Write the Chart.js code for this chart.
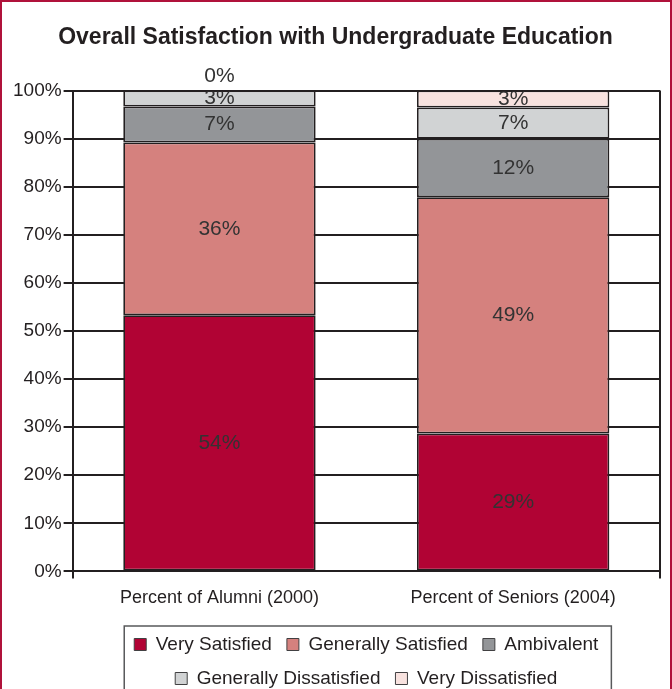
<!DOCTYPE html>
<html><head><meta charset="utf-8">
<script src="https://cdn.jsdelivr.net/npm/chart.js@4.4.0/dist/chart.umd.min.js"></script>
<style>
html,body{margin:0;padding:0;background:#fff;overflow:hidden;}
#wrap{position:relative;width:672px;height:689px;overflow:hidden;background:#fff;}
#frame{position:absolute;left:0;top:0;width:672px;height:740px;box-sizing:border-box;border:2px solid #b0123b;pointer-events:none;}
#c{position:absolute;left:0;top:0;}
</style></head><body>
<div id="wrap"><canvas id="c"></canvas><div id="frame"></div></div>
<script>
const categories = ['Percent of Alumni (2000)', 'Percent of Seniors (2004)'];
const seriesNames = ['Very Satisfied', 'Generally Satisfied', 'Ambivalent', 'Generally Dissatisfied', 'Very Dissatisfied'];
const verySatisfied = [53.3, 28.7];
const generallySatisfied = [35.9, 49.1];
const ambivalent = [7.5, 12.2];
const generallyDissatisfied = [3.3, 6.5];
const veryDissatisfied = [0, 3.5];
const verySatisfiedLabels = ['54%', '29%'];
const generallySatisfiedLabels = ['36%', '49%'];
const ambivalentLabels = ['7%', '12%'];
const generallyDissatisfiedLabels = ['3%', '7%'];
const veryDissatisfiedLabels = ['0%', '3%'];
const yTickValues = [0, 10, 20, 30, 40, 50, 60, 70, 80, 90, 100];
const title = 'Overall Satisfaction with Undergraduate Education';

const FONT = '"Liberation Sans", Arial, Helvetica, sans-serif';
const DARK = '#231f20';
const colors = ['#b10334', '#d5817e', '#939598', '#d1d3d4', '#f8e2df'];
const seriesData = [verySatisfied, generallySatisfied, ambivalent, generallyDissatisfied, veryDissatisfied];
const seriesLabels = [verySatisfiedLabels, generallySatisfiedLabels, ambivalentLabels, generallyDissatisfiedLabels, veryDissatisfiedLabels];

const canvas = document.getElementById('c');
canvas.width = 672; canvas.height = 698;
canvas.style.width = '672px'; canvas.style.height = '698px';

const segLabelPlugin = {
  id: 'segLabels',
  afterDatasetsDraw(chart) {
    const ctx = chart.ctx, area = chart.chartArea;
    chart.data.datasets.forEach((ds, di) => {
      const meta = chart.getDatasetMeta(di);
      meta.data.forEach((bar, i) => {
        const v = ds.data[i];
        const txt = seriesLabels[di][i];
        ctx.save();
        ctx.font = '21px ' + FONT;
        ctx.fillStyle = '#333333';
        ctx.textAlign = 'center';
        ctx.textBaseline = 'middle';
        let y;
        if (v === 0) {
          y = bar.y - 14;
        } else {
          ctx.beginPath();
          ctx.rect(area.left, area.top + 1, area.width, area.height);
          ctx.clip();
          y = (bar.y + bar.base) / 2;
        }
        ctx.fillText(txt, bar.x, y);
        ctx.restore();
      });
    });
  }
};

const legendFramePlugin = {
  id: 'legendFrame',
  afterDraw(chart) {
    const hb = chart.legend.legendHitBoxes;
    if (!hb || !hb.length) return;
    let l = Infinity, r = -Infinity, t = Infinity;
    hb.forEach(h => { l = Math.min(l, h.left); r = Math.max(r, h.left + h.width); t = Math.min(t, h.top); });
    const ctx = chart.ctx;
    ctx.save();
    ctx.strokeStyle = '#58595b';
    ctx.lineWidth = 1.5;
    ctx.strokeRect(l - 10, t - 9, (r + 13) - (l - 10), chart.height + 50);
    ctx.restore();
  }
};

new Chart(canvas, {
  type: 'bar',
  data: {
    labels: categories,
    datasets: seriesNames.map((name, i) => ({
      label: name,
      data: seriesData[i],
      backgroundColor: colors[i],
      borderColor: DARK,
      borderWidth: 1.75,
      borderSkipped: false,
      categoryPercentage: 1,
      barPercentage: 0.655
    }))
  },
  options: {
    responsive: false,
    animation: false,
    layout: { padding: { left: 11, right: 12, top: 0, bottom: 0 } },
    plugins: {
      title: {
        display: true, text: title, color: DARK,
        font: { family: FONT, size: 23, weight: 'bold' },
        padding: { top: 24, bottom: 39 }
      },
      legend: {
        position: 'bottom', fullSize: false,
        labels: {
          boxWidth: 12, boxHeight: 12, padding: 15, color: DARK, font: { family: FONT, size: 19 },
          generateLabels: (chart) => Chart.defaults.plugins.legend.labels.generateLabels(chart).map(it => Object.assign(it, { lineWidth: 1, strokeStyle: '#414042' }))
        }
      },
      tooltip: { enabled: false }
    },
    scales: {
      x: {
        stacked: true, offset: true,
        grid: { offset: true, color: (c) => c.index === 1 ? 'rgba(0,0,0,0)' : DARK, lineWidth: 2, tickLength: 7 },
        border: { display: true, color: DARK, width: 2 },
        ticks: { color: DARK, font: { family: FONT, size: 18 }, padding: 9 },
        afterFit: (s) => { s.height += 2; }
      },
      y: {
        stacked: true, min: 0, max: 100,
        afterBuildTicks: (s) => { s.ticks = yTickValues.map(v => ({ value: v })); },
        ticks: { color: DARK, font: { family: FONT, size: 19 }, padding: 2, callback: (v) => v + '%' },
        grid: { color: DARK, lineWidth: 2, tickLength: 9 },
        border: { display: true, color: DARK, width: 2 }
      }
    }
  },
  plugins: [segLabelPlugin, legendFramePlugin]
});
</script>
</body></html>
